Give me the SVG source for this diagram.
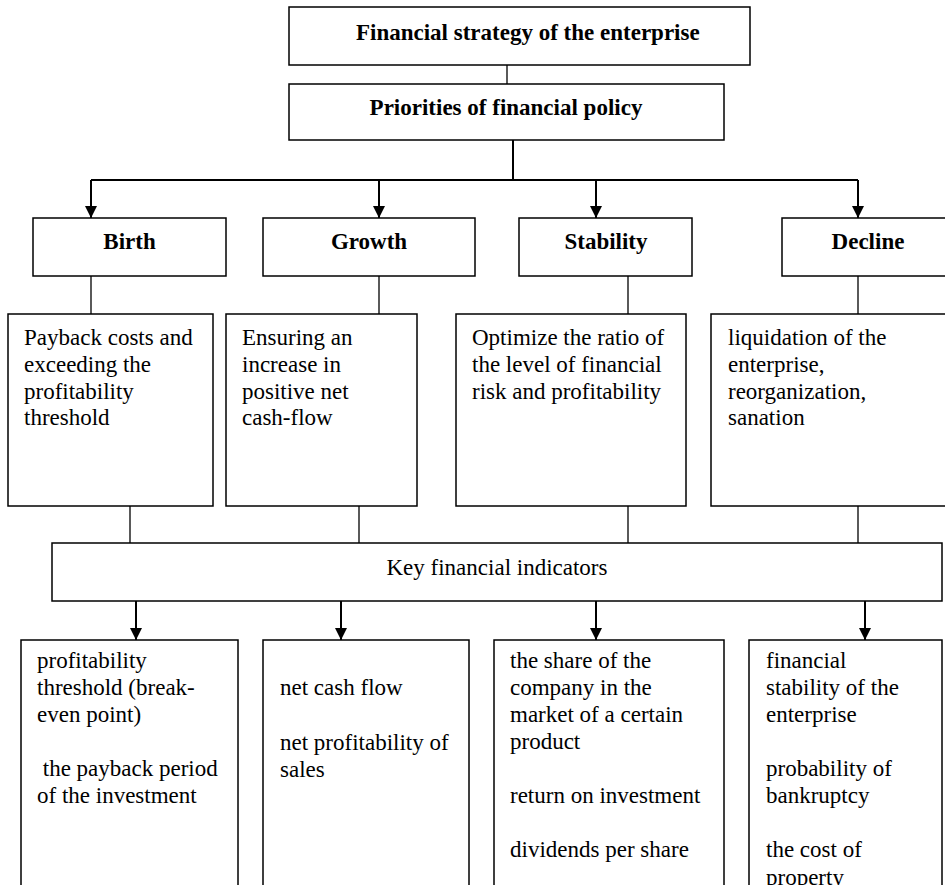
<svg xmlns="http://www.w3.org/2000/svg" width="945" height="885" viewBox="0 0 945 885">
<style>
.box{fill:#fff;stroke:#000;stroke-width:1.5}
.t{font-family:"Liberation Serif","Times New Roman",serif;font-size:23px;fill:#000}
.b{font-weight:bold}
.c{text-anchor:middle}
.ln{stroke:#000;stroke-width:1.3;fill:none}
.ar{stroke:#000;stroke-width:2;fill:none}
</style>
<defs>
<marker id="ah" markerUnits="userSpaceOnUse" markerWidth="12" markerHeight="12" refX="12" refY="6" orient="auto" viewBox="0 0 12 12">
<path d="M0,0 L12,6 L0,12 z" fill="#000"/>
</marker>
</defs>
<rect width="945" height="885" fill="#fff"/>
<g id="connectors">
<line class="ln" x1="507" y1="65" x2="507" y2="84"/>
<line class="ar" x1="513" y1="140" x2="513" y2="180"/>
<line class="ar" x1="91" y1="180" x2="858" y2="180"/>
<line class="ar" x1="91" y1="180" x2="91" y2="218" marker-end="url(#ah)"/>
<line class="ar" x1="379" y1="180" x2="379" y2="218" marker-end="url(#ah)"/>
<line class="ar" x1="596" y1="180" x2="596" y2="218" marker-end="url(#ah)"/>
<line class="ar" x1="858" y1="180" x2="858" y2="218" marker-end="url(#ah)"/>
<line class="ln" x1="91" y1="276" x2="91" y2="314"/>
<line class="ln" x1="379" y1="276" x2="379" y2="314"/>
<line class="ln" x1="628" y1="276" x2="628" y2="314"/>
<line class="ln" x1="858" y1="276" x2="858" y2="314"/>
<line class="ln" x1="130" y1="506" x2="130" y2="543"/>
<line class="ln" x1="359" y1="506" x2="359" y2="543"/>
<line class="ln" x1="628" y1="506" x2="628" y2="543"/>
<line class="ln" x1="858" y1="506" x2="858" y2="543"/>
<line class="ar" x1="136" y1="601" x2="136" y2="640" marker-end="url(#ah)"/>
<line class="ar" x1="341" y1="601" x2="341" y2="640" marker-end="url(#ah)"/>
<line class="ar" x1="596" y1="601" x2="596" y2="640" marker-end="url(#ah)"/>
<line class="ar" x1="865" y1="601" x2="865" y2="640" marker-end="url(#ah)"/>
</g>
<g id="strategy">
<rect class="box" x="289" y="7" width="461" height="58"/>
<text class="t b" x="356" y="40">Financial strategy of the enterprise</text>
</g>
<g id="priorities">
<rect class="box" x="289" y="84" width="435" height="56"/>
<text class="t b c" x="506" y="115">Priorities of financial policy</text>
</g>
<g id="birth">
<rect class="box" x="33" y="218" width="193" height="58"/>
<text class="t b c" x="129.5" y="249">Birth</text>
</g>
<g id="growth">
<rect class="box" x="263" y="218" width="212" height="58"/>
<text class="t b c" x="369" y="249">Growth</text>
</g>
<g id="stability">
<rect class="box" x="519" y="218" width="173" height="58"/>
<text class="t b c" x="606" y="249">Stability</text>
</g>
<g id="decline">
<rect class="box" x="782" y="218" width="170" height="58"/>
<text class="t b c" x="868" y="249">Decline</text>
</g>
<g id="birth-goal">
<rect class="box" x="8" y="314" width="205" height="192"/>
<text class="t" x="24" y="345">Payback costs and</text>
<text class="t" x="24" y="372">exceeding the</text>
<text class="t" x="24" y="399">profitability</text>
<text class="t" x="24" y="425">threshold</text>
</g>
<g id="growth-goal">
<rect class="box" x="226" y="314" width="191" height="192"/>
<text class="t" x="242" y="345">Ensuring an</text>
<text class="t" x="242" y="372">increase in</text>
<text class="t" x="242" y="399">positive net</text>
<text class="t" x="242" y="425">cash-flow</text>
</g>
<g id="stability-goal">
<rect class="box" x="456" y="314" width="230" height="192"/>
<text class="t" x="472" y="345">Optimize the ratio of</text>
<text class="t" x="472" y="372">the level of financial</text>
<text class="t" x="472" y="399">risk and profitability</text>
</g>
<g id="decline-goal">
<rect class="box" x="711" y="314" width="240" height="192"/>
<text class="t" x="728" y="345">liquidation of the</text>
<text class="t" x="728" y="372">enterprise,</text>
<text class="t" x="728" y="399">reorganization,</text>
<text class="t" x="728" y="425">sanation</text>
</g>
<g id="key-indicators">
<rect class="box" x="52" y="543" width="890" height="58"/>
<text class="t c" x="497" y="575">Key financial indicators</text>
</g>
<g id="birth-indicators">
<rect class="box" x="21" y="640" width="217" height="260"/>
<text class="t" x="37" y="668">profitability</text>
<text class="t" x="37" y="695">threshold (break-</text>
<text class="t" x="37" y="722">even point)</text>
<text class="t" x="37" y="776" xml:space="preserve"> the payback period</text>
<text class="t" x="37" y="803">of the investment</text>
</g>
<g id="growth-indicators">
<rect class="box" x="263" y="640" width="206" height="260"/>
<text class="t" x="280" y="695">net cash flow</text>
<text class="t" x="280" y="750">net profitability of</text>
<text class="t" x="280" y="777">sales</text>
</g>
<g id="stability-indicators">
<rect class="box" x="494" y="640" width="230" height="260"/>
<text class="t" x="510" y="668">the share of the</text>
<text class="t" x="510" y="695">company in the</text>
<text class="t" x="510" y="722">market of a certain</text>
<text class="t" x="510" y="749">product</text>
<text class="t" x="510" y="803">return on investment</text>
<text class="t" x="510" y="857">dividends per share</text>
</g>
<g id="decline-indicators">
<rect class="box" x="749" y="640" width="193" height="260"/>
<text class="t" x="766" y="668">financial</text>
<text class="t" x="766" y="695">stability of the</text>
<text class="t" x="766" y="722">enterprise</text>
<text class="t" x="766" y="776">probability of</text>
<text class="t" x="766" y="803">bankruptcy</text>
<text class="t" x="766" y="857">the cost of</text>
<text class="t" x="766" y="885">property</text>
</g>
</svg>
